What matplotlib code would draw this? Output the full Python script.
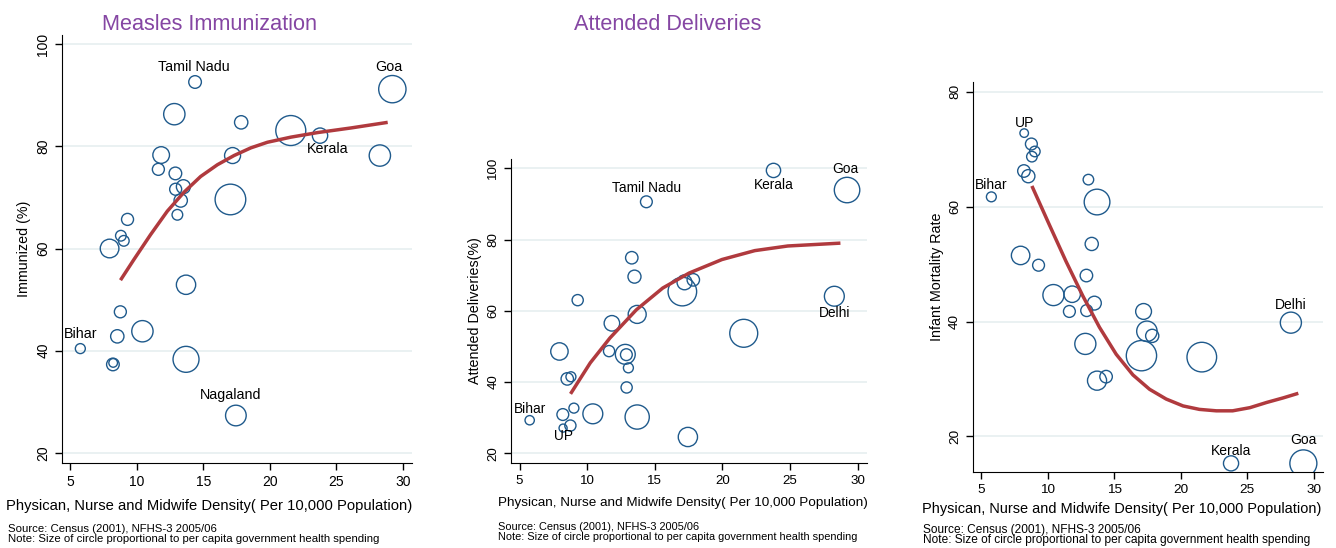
import matplotlib.pyplot as plt

plt.rcParams['font.family'] = ['Liberation Sans', 'DejaVu Sans']

# densidad por estado (medicos, enfermeras, parteras por 10,000)
density = [5.75, 7.95, 8.22, 8.20, 8.53, 8.76, 8.80, 9.02, 9.30, 10.42,
           11.62, 11.83, 12.82, 12.90, 12.92, 13.05, 13.30, 13.50, 13.70, 13.70,
           14.38, 17.04, 17.20, 17.45, 17.85, 21.58, 23.78, 28.28, 29.22]
spending = [56, 196, 42, 90, 100, 81, 64, 64, 81, 256,
            81, 156, 256, 90, 81, 64, 100, 110, 210, 380,
            90, 529, 144, 240, 100, 506, 132, 256, 420]
immunized = [40.4, 60.0, 37.6, 37.3, 42.8, 47.6, 62.5, 61.5, 65.7, 43.8,
             75.5, 78.3, 86.3, 74.7, 71.6, 66.6, 69.4, 72.1, 52.9, 38.3,
             92.6, 69.6, 78.2, 27.3, 84.7, 83.1, 82.1, 78.2, 91.2]
deliveries = [29.3, 48.6, 27.1, 30.9, 40.9, 27.8, 41.5, 32.7, 63.0, 31.1,
              48.7, 56.5, 47.8, 47.7, 38.5, 44.0, 74.9, 69.6, 59.0, 30.2,
              90.6, 65.4, 68.0, 24.6, 68.7, 53.7, 99.4, 64.1, 93.9]
imr = [61.7, 51.5, 72.8, 66.2, 65.3, 70.9, 68.7, 69.6, 49.8, 44.6,
       41.75, 44.75, 36.1, 48.0, 41.9, 64.7, 53.5, 43.2, 29.7, 60.8,
       30.4, 34.05, 41.75, 38.3, 37.5, 33.8, 15.3, 39.8, 15.3]

# curvas de ajuste
fit1_x = [8.77, 9.77, 11.03, 12.29, 13.54, 14.8, 16.06, 17.31, 18.57, 19.82, 21.58, 23.6, 26.1, 28.87]
fit1_y = [53.8, 57.8, 62.7, 67.3, 71.0, 74.1, 76.4, 78.2, 79.7, 80.8, 81.8, 82.7, 83.6, 84.7]
fit2_x = [8.77, 10.23, 11.69, 13.64, 15.59, 17.54, 19.97, 22.4, 24.84, 28.73]
fit2_y = [36.7, 45.4, 52.4, 60.3, 66.4, 70.6, 74.4, 76.9, 78.2, 79.0]
fit3_x = [8.8, 10.1, 11.36, 12.62, 13.88, 15.14, 16.4, 17.65, 18.9, 20.17, 21.4, 22.67, 23.9, 25.2, 26.45, 27.7, 28.84]
fit3_y = [63.6, 56.9, 50.5, 44.5, 39.0, 34.3, 30.7, 28.2, 26.5, 25.3, 24.7, 24.45, 24.45, 25.0, 25.9, 26.7, 27.5]

# etiquetas: (indice, texto, dx px, dy px)
labels1 = [(20, 'Tamil Nadu', -1, 15), (28, 'Goa', -3, 22), (26, 'Kerala', 8, -13),
           (0, 'Bihar', 0, 15), (23, 'Nagaland', -5, 21)]
labels2 = [(26, 'Kerala', 0, -15), (28, 'Goa', -2, 21), (20, 'Tamil Nadu', 0, 14),
           (27, 'Delhi', 0, -17), (0, 'Bihar', 0, 11), (2, 'UP', 0, -8)]
labels3 = [(2, 'UP', 0, 10), (0, 'Bihar', 0, 12), (27, 'Delhi', 0, 18),
           (26, 'Kerala', 0, 12), (28, 'Goa', 0, 23)]

xlab = 'Physican, Nurse and Midwife Density( Per 10,000 Population)'
source = 'Source: Census (2001), NFHS-3 2005/06'
note = 'Note: Size of circle proportional to per capita government health spending'

navy = '#1f5a8c'
maroon = '#b03a3e'
grid = '#e6eff0'

fig = plt.figure(figsize=(13.36, 5.48), dpi=100)
ax1 = fig.add_axes([0.0464, 0.1551, 0.262, 0.781])
ax2 = fig.add_axes([0.3825, 0.1551, 0.2665, 0.5547])
ax3 = fig.add_axes([0.7283, 0.1387, 0.262, 0.7117])

# ax, y, fit x, fit y, labels, ylabel, ylim, yticks, size factor, tick fs, xlabel fs, xlabel center (axes frac), xlabel y px
panels = [
    (ax1, immunized, fit1_x, fit1_y, labels1, 'Immunized (%)', (18.0, 101.8), [20, 40, 60, 80, 100], 0.92, 10, 10.6, 0.421, -36),
    (ax2, deliveries, fit2_x, fit2_y, labels2, 'Attended Deliveries(%)', (17.3, 102.6), [20, 40, 60, 80, 100], 0.8, 9.6, 9.7, 0.482, -34),
    (ax3, imr, fit3_x, fit3_y, labels3, 'Infant Mortality Rate', (13.8, 81.7), [20, 40, 60, 80], 0.9, 9.7, 10.45, 0.426, -30),
]

for ax, yv, fx, fy, labs, ylab, ylim, yticks, k, tfs, xfs, xc, xy in panels:
    ax.scatter(density, yv, s=[k * v for v in spending], facecolors='none',
               edgecolors=navy, linewidths=1.0, zorder=3)
    ax.plot(fx, fy, color=maroon, linewidth=2.5, solid_capstyle='butt', zorder=4)
    for i, txt, dx, dy in labs:
        ax.annotate(txt, (density[i], yv[i]), xytext=(dx, dy), textcoords='offset pixels',
                    ha='center', va='center', fontsize=tfs + 0.3, zorder=5)
    ax.set_xlim(4.37, 30.7)
    ax.set_ylim(*ylim)
    ax.set_xticks([5, 10, 15, 20, 25, 30])
    ax.set_yticks(yticks)
    ax.set_yticklabels([str(t) for t in yticks], rotation=90, va='center')
    for t in yticks:
        ax.axhline(t, color=grid, linewidth=1.2, zorder=1)
    ax.spines['top'].set_visible(False)
    ax.spines['right'].set_visible(False)
    ax.tick_params(direction='out', length=5, width=1, labelsize=tfs)
    ax.set_ylabel(ylab, fontsize=10.3)
    ax.set_xlabel(xlab, fontsize=xfs)
    h_px = ax.get_position().height * 548
    ax.xaxis.set_label_coords(xc, xy / h_px)

fig.text(0.157, 0.955, 'Measles Immunization', color='#8546a3', fontsize=15.6, ha='center', va='center')
fig.text(0.5, 0.955, 'Attended Deliveries', color='#8546a3', fontsize=15.6, ha='center', va='center')

# notas al pie: (x px, y px Source, y px Note, tamano)
for x0, y1, y2, fs in [(8, 528.5, 538.5, 8.2), (498, 527, 536.7, 7.95), (923, 530, 539.5, 8.55)]:
    fig.text(x0 / 1336, 1 - y1 / 548, source, fontsize=fs, ha='left', va='center')
    fig.text(x0 / 1336, 1 - y2 / 548, note, fontsize=fs, ha='left', va='center')

fig.savefig('out.png', dpi=100, facecolor='white')
